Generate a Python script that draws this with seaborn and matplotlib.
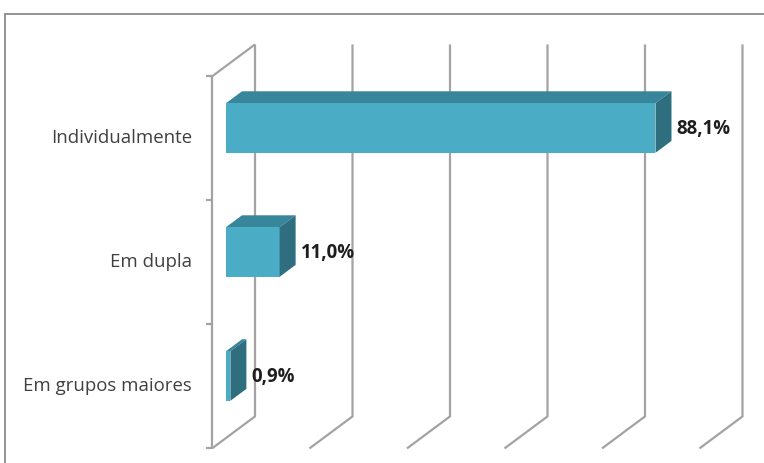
import matplotlib
matplotlib.use("Agg")
import matplotlib.pyplot as plt
from matplotlib.patches import Polygon, Rectangle
import seaborn as sns
import pandas as pd

# Values of the chart
categories = ["Individualmente", "Em dupla", "Em grupos maiores"]
values = [88.1, 11.0, 0.9]
value_labels = ["88,1%", "11,0%", "0,9%"]
grid_ticks = [0, 20, 40, 60, 80, 100]

df = pd.DataFrame({"categoria": categories, "percentual": values})

sns.set_style("white")
plt.rcParams["font.family"] = ["Open Sans", "DejaVu Sans"]

W, H, DPI = 764, 463, 100
fig = plt.figure(figsize=(W / DPI, H / DPI), dpi=DPI, facecolor="white")

# axes placed on the plane of the bar front faces (pixel box)
ax_left, ax_right, ax_top, ax_bottom = 226, 713.5, 66, 438
ax = fig.add_axes([ax_left / W, 1 - ax_bottom / H,
                   (ax_right - ax_left) / W, (ax_bottom - ax_top) / H])
ax.set_facecolor("none")

front_col = "#4bacc6"
top_col = "#37869b"
side_col = "#2e6e7e"
grid_col = "#a3a3a3"

sns.barplot(data=df, x="percentual", y="categoria", orient="h",
            color=front_col, saturation=1, width=0.4, ax=ax, zorder=3)

ax.set_xlim(0, 100)
ax.set_ylim(2.5, -0.5)
ax.set_xlabel("")
ax.set_ylabel("")
ax.set_xticks([])
ax.set_yticks([])
for s in ax.spines.values():
    s.set_visible(False)

# pixel sizes of one data unit
px_x = (ax_right - ax_left) / 100.0
px_c = (ax_bottom - ax_top) / 3.0

# 3-D depth vector (pixels, image coords: right / down)
depth_dx, depth_dy = 43.0, -32.0
d_front = 14.0 / 43.0   # depth of bar front faces
d_back = 30.0 / 43.0    # depth of bar back faces


def pt(x, c, d):
    """Data point at value x, category coordinate c and depth fraction d."""
    return (x + (d - d_front) * depth_dx / px_x,
            c + (d - d_front) * depth_dy / px_c)


line_kw = dict(color=grid_col, lw=1.6, solid_capstyle="butt", clip_on=False, zorder=1)

# left wall edges
ax.plot(*zip(pt(0, -0.5, 0), pt(0, 2.5, 0)), **line_kw)
ax.plot(*zip(pt(0, -0.5, 0), pt(0, -0.5, 1)), **line_kw)

# vertical gridlines on the back wall and their floor edges
for g in grid_ticks:
    ax.plot(*zip(pt(g, -0.5, 1), pt(g, 2.5, 1), pt(g, 2.5, 0)), **line_kw)

# tick marks between categories on the front axis
for b in [-0.5, 0.5, 1.5, 2.5]:
    x0, y0 = pt(0, b, 0)
    ax.plot([x0 - 6 / px_x, x0], [y0, y0], **line_kw)

# top and side faces of every bar
for bar in ax.patches:
    x0 = bar.get_x()
    x1 = x0 + bar.get_width()
    yt = bar.get_y()
    yb = yt + bar.get_height()
    bar.set_edgecolor("none")
    top = [pt(x0, yt, d_front), pt(x1, yt, d_front),
           pt(x1, yt, d_back), pt(x0, yt, d_back)]
    side = [pt(x1, yt, d_front), pt(x1, yb, d_front),
            pt(x1, yb, d_back), pt(x1, yt, d_back)]
    ax.add_patch(Polygon(top, closed=True, fc=top_col, ec="none", zorder=2.5, clip_on=False))
    ax.add_patch(Polygon(side, closed=True, fc=side_col, ec="none", zorder=3.5, clip_on=False))

# category labels next to the front axis
for i, name in enumerate(categories):
    ax.annotate(name, xy=pt(0, i, 0), xytext=(-20, 0), textcoords="offset pixels",
                ha="right", va="center", fontsize=13.4, color="#404040",
                annotation_clip=False)

# value labels
for i, (v, lab) in enumerate(zip(values, value_labels)):
    ax.annotate(lab, xy=(v, i), xytext=(21, -1), textcoords="offset pixels",
                ha="left", va="center", fontsize=13.4, fontweight="bold",
                color="#1e1e1e", annotation_clip=False, zorder=5)

# chart frame
fig.patches.append(Rectangle((5 / W, -0.1), 1.2, 1 - 14 / H + 0.1,
                             transform=fig.transFigure, fill=False,
                             ec="#8a8a8a", lw=1.3))

fig.savefig("out.png", dpi=DPI, facecolor="white")
